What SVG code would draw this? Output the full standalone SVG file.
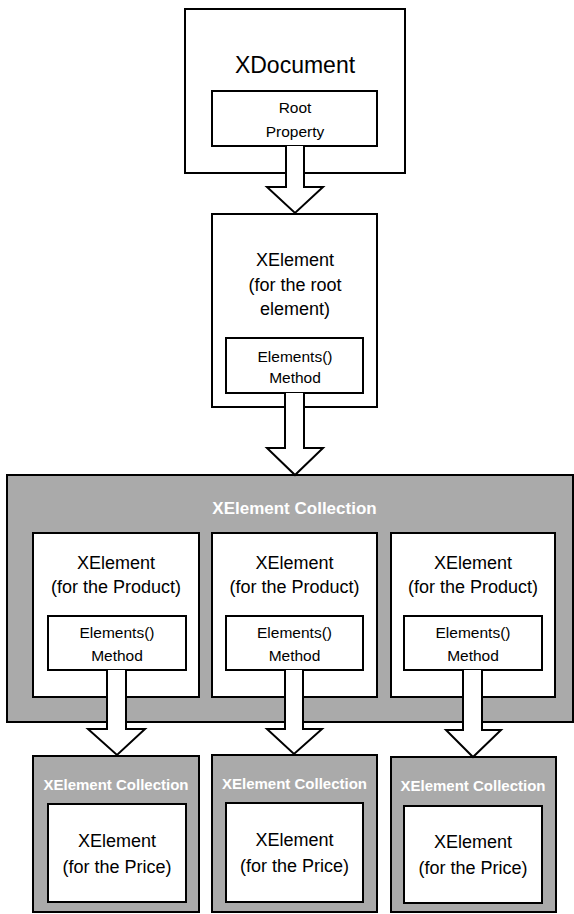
<svg xmlns="http://www.w3.org/2000/svg" width="574" height="914" viewBox="0 0 574 914">
<style>
.box{fill:#ffffff;stroke:#000000;stroke-width:2}
.coll{fill:#aaaaaa;stroke:#000000;stroke-width:2}
.arrow{fill:#ffffff;stroke:#000000;stroke-width:2;stroke-linejoin:miter}
text{font-family:"Liberation Sans",Arial,sans-serif;fill:#000000;text-anchor:middle}
.title{font-size:23px}
.t18{font-size:18px}
.t15{font-size:15.5px}
.clab{font-weight:bold;fill:#ffffff;font-size:17px}
.clabs{font-weight:bold;fill:#ffffff;font-size:15px}
</style>
<rect width="574" height="914" fill="#ffffff"/>

<g id="xdocument">
<rect class="box" x="185" y="9" width="220" height="164"/>
<text class="title" x="295" y="73">XDocument</text>
<rect class="box" x="212" y="91" width="165" height="55"/>
<text class="t15" x="295" y="113">Root</text>
<text class="t15" x="295" y="137">Property</text>
</g>

<g id="xelement-root">
<rect class="box" x="212" y="214" width="165" height="193"/>
<text class="t18" x="295" y="266">XElement</text>
<text class="t18" x="295" y="291">(for the root</text>
<text class="t18" x="295" y="315">element)</text>
<rect class="box" x="226" y="338" width="137" height="55"/>
<text class="t15" x="295" y="362">Elements()</text>
<text class="t15" x="295" y="383">Method</text>
</g>

<g id="collection-main">
<rect class="coll" x="7" y="475" width="566" height="247"/>
<text class="clab" x="294.5" y="514">XElement Collection</text>
</g>

<g id="product-1">
<rect class="box" x="33" y="533" width="166" height="164"/>
<text class="t18" x="116" y="569">XElement</text>
<text class="t18" x="116" y="593">(for the Product)</text>
<rect class="box" x="48" y="616" width="138" height="54"/>
<text class="t15" x="117" y="638">Elements()</text>
<text class="t15" x="117" y="661">Method</text>
</g>

<g id="product-2">
<rect class="box" x="212" y="533" width="165" height="164"/>
<text class="t18" x="294.5" y="569">XElement</text>
<text class="t18" x="294.5" y="593">(for the Product)</text>
<rect class="box" x="226" y="616" width="137" height="54"/>
<text class="t15" x="294.5" y="638">Elements()</text>
<text class="t15" x="294.5" y="661">Method</text>
</g>

<g id="product-3">
<rect class="box" x="391" y="533" width="164" height="164"/>
<text class="t18" x="473" y="569">XElement</text>
<text class="t18" x="473" y="593">(for the Product)</text>
<rect class="box" x="404" y="616" width="138" height="54"/>
<text class="t15" x="473" y="638">Elements()</text>
<text class="t15" x="473" y="661">Method</text>
</g>

<g id="price-collection-1">
<rect class="coll" x="33" y="756" width="166" height="156"/>
<text class="clabs" x="116" y="790">XElement Collection</text>
<rect class="box" x="48" y="804" width="138" height="98"/>
<text class="t18" x="117" y="847">XElement</text>
<text class="t18" x="117" y="873">(for the Price)</text>
</g>

<g id="price-collection-2">
<rect class="coll" x="212" y="755" width="165" height="157"/>
<text class="clabs" x="294.5" y="789">XElement Collection</text>
<rect class="box" x="226" y="803" width="137" height="99"/>
<text class="t18" x="294.5" y="846">XElement</text>
<text class="t18" x="294.5" y="872">(for the Price)</text>
</g>

<g id="price-collection-3">
<rect class="coll" x="391" y="757" width="165" height="155"/>
<text class="clabs" x="473" y="791">XElement Collection</text>
<rect class="box" x="404" y="806" width="138" height="97"/>
<text class="t18" x="473" y="848">XElement</text>
<text class="t18" x="473" y="874">(for the Price)</text>
</g>

<g id="connectors">
<path class="arrow" d="M286,146 V187 H267 L295,213 L323,187 H304 V146"/>
<path class="arrow" d="M285,393 V448 H267 L295,475 L323,448 H304 V393"/>
<path class="arrow" d="M107,670 V729 H88 L117,755 L145,729 H126 V670"/>
<path class="arrow" d="M285,670 V729 H267 L294,754 L322,729 H303 V670"/>
<path class="arrow" d="M463,670 V730 H446 L473,757 L501,730 H482 V670"/>
</g>
</svg>
